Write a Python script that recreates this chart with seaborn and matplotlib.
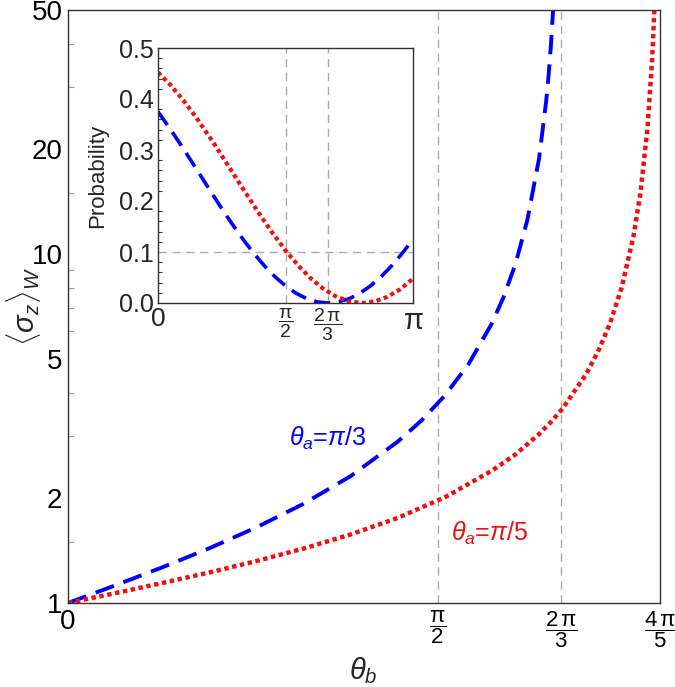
import numpy as np
import pandas as pd
import matplotlib
matplotlib.use("Agg")
import matplotlib.pyplot as plt
import seaborn as sns
from matplotlib.ticker import FixedLocator, NullFormatter, MultipleLocator

# Curva principal: valor débil <sigma_z>_W frente a theta_b
theta_azul = [0.0, 0.2, 0.4, 0.6, 0.8, 1.0, 1.2, 1.4, 1.5, 1.6, 1.7, 1.8, 1.85,
              1.9, 1.95, 2.0, 2.03, 2.04, 2.05, 2.06]
sigma_azul = [1.0, 1.123, 1.265, 1.435, 1.647, 1.924, 2.31, 2.90, 3.33, 3.93, 4.83,
              6.33, 7.55, 9.38, 12.5, 18.8, 27.4, 32.3, 39.5, 50.8]

theta_rojo = [0.0, 0.2, 0.4, 0.6, 0.8, 1.0, 1.2, 1.4, 1.6, 1.8, 1.9, 2.0, 2.05,
              2.1, 2.2, 2.25, 2.3, 2.35, 2.4, 2.43, 2.46, 2.48, 2.49]
sigma_rojo = [1.0, 1.067, 1.141, 1.223, 1.319, 1.432, 1.572, 1.753, 2.009, 2.395,
              2.666, 3.049, 3.30, 3.609, 4.53, 5.25, 6.30, 8.00, 11.18, 14.9,
              22.9, 36.2, 51.5]

# Recuadro: probabilidad frente a theta_b
theta_p_azul = [0.0, 0.131, 0.262, 0.393, 0.524, 0.654, 0.785, 0.916, 1.047, 1.178,
                1.309, 1.440, 1.571, 1.702, 1.833, 1.963, 2.094, 2.225, 2.356,
                2.487, 2.618, 2.749, 2.880, 3.011, 3.142]
prob_azul = [0.375, 0.3457, 0.3147, 0.2826, 0.25, 0.2174, 0.1853, 0.1543, 0.125,
             0.0978, 0.0732, 0.0517, 0.0335, 0.0190, 0.0085, 0.0021, 0.0, 0.0021,
             0.0085, 0.0190, 0.0335, 0.0517, 0.0732, 0.0978, 0.125]

theta_p_rojo = [0.0, 0.157, 0.314, 0.471, 0.628, 0.785, 0.942, 1.100, 1.257, 1.414,
                1.571, 1.728, 1.885, 2.042, 2.199, 2.356, 2.513, 2.670, 2.827,
                2.985, 3.142]
prob_rojo = [0.4523, 0.4268, 0.3969, 0.3635, 0.3273, 0.2891, 0.25, 0.2109, 0.1727,
             0.1365, 0.1031, 0.0732, 0.0477, 0.0272, 0.0122, 0.0031, 0.0, 0.0031,
             0.0122, 0.0272, 0.0477]

ticks_main_x = [0, np.pi / 2, 2 * np.pi / 3, 4 * np.pi / 5]
labels_main_x = ["0", r"$\dfrac{\mathrm{\pi}}{2}$", r"$\dfrac{2\,\mathrm{\pi}}{3}$",
                 r"$\dfrac{4\,\mathrm{\pi}}{5}$"]
ticks_main_y = [1, 2, 5, 10, 20, 50]
minor_main_y = [1.5, 3, 4, 6, 7, 8, 9, 15, 30, 40]
ticks_ins_x = [0, np.pi / 2, 2 * np.pi / 3, np.pi]
labels_ins_x = ["0", r"$\dfrac{\mathrm{\pi}}{2}$", r"$\dfrac{2\,\mathrm{\pi}}{3}$",
                r"$\mathrm{\pi}$"]

sns.set_style("white")
plt.rcParams["font.family"] = ["Liberation Sans", "DejaVu Sans"]
plt.rcParams["mathtext.fontset"] = "custom"
plt.rcParams["mathtext.rm"] = "Liberation Sans"
plt.rcParams["mathtext.it"] = "Liberation Sans:italic"
plt.rcParams["mathtext.bf"] = "Liberation Sans:bold"

AZUL = "#0000ff"
ROJO = "#ee1111"
GRIS = "#aaaaaa"
MARCO = "#333333"

fig = plt.figure(figsize=(6.75, 6.87), dpi=100)
ax = fig.add_axes([68 / 675, 84 / 687, 592 / 675, 593 / 687])

df_azul = pd.DataFrame({"theta": theta_azul, "sigma": sigma_azul})
df_rojo = pd.DataFrame({"theta": theta_rojo, "sigma": sigma_rojo})
sns.lineplot(data=df_azul, x="theta", y="sigma", ax=ax, color=AZUL, lw=2.8,
             linestyle=(0, (5, 2.6)))
sns.lineplot(data=df_rojo, x="theta", y="sigma", ax=ax, color=ROJO, lw=3.2,
             linestyle=(0, (1, 0.8)))

ax.set_yscale("log")
ax.set_xlim(0, 4 * np.pi / 5)
ax.set_ylim(1, 50)
for xv in [np.pi / 2, 2 * np.pi / 3]:
    ax.axvline(xv, color=GRIS, lw=1, linestyle=(0, (6, 4)), zorder=0)

ax.xaxis.set_major_locator(FixedLocator(ticks_main_x))
ax.set_xticklabels(labels_main_x)
ax.yaxis.set_major_locator(FixedLocator(ticks_main_y))
ax.yaxis.set_minor_locator(FixedLocator(minor_main_y))
ax.yaxis.set_minor_formatter(NullFormatter())
ax.set_yticklabels([str(v) for v in ticks_main_y])
ax.xaxis.set_minor_locator(FixedLocator([]))
ax.tick_params(axis="both", which="major", direction="in", length=6, width=1,
               color=MARCO, labelsize=20, labelcolor="black", pad=4)
ax.tick_params(axis="y", which="minor", direction="in", length=4, width=0.8,
               color="#999999", left=True)
ax.tick_params(axis="x", labelsize=16, pad=4)
ax.xaxis.get_ticklabels()[0].set_fontsize(20)
for s in ax.spines.values():
    s.set_color(MARCO)
    s.set_linewidth(1)

ax.set_xlabel("")
ax.set_ylabel("")
fig.text(363 / 675, 1 - 671 / 687, r"$\theta_b$", fontsize=21, ha="center", va="center")
fig.text(24 / 675, 1 - 306 / 687, r"$\langle\sigma_z\rangle_W$", fontsize=21,
         ha="center", va="center", rotation=90)

ax.text(1.10, 2.97, r"$\theta_a$=$\pi$/3", color=AZUL, fontsize=18,
        ha="center", va="center")
ax.text(1.79, 1.587, r"$\theta_a$=$\pi$/5", color=ROJO, fontsize=18,
        ha="center", va="center")

# Recuadro
ins = fig.add_axes([158 / 675, (687 - 303) / 687, 255 / 675, 255 / 687])
df_p_azul = pd.DataFrame({"theta": theta_p_azul, "p": prob_azul})
df_p_rojo = pd.DataFrame({"theta": theta_p_rojo, "p": prob_rojo})
sns.lineplot(data=df_p_azul, x="theta", y="p", ax=ins, color=AZUL, lw=2.6,
             linestyle=(0, (4.5, 2.4)))
sns.lineplot(data=df_p_rojo, x="theta", y="p", ax=ins, color=ROJO, lw=3.0,
             linestyle=(0, (1, 0.8)))
ins.set_xlim(0, np.pi)
ins.set_ylim(0, 0.5)
for xv in [np.pi / 2, 2 * np.pi / 3]:
    ins.axvline(xv, color=GRIS, lw=1, linestyle=(0, (6, 4)), zorder=0)
ins.axhline(0.1, color=GRIS, lw=1, linestyle=(0, (6, 4)), zorder=0)
ins.xaxis.set_major_locator(FixedLocator(ticks_ins_x))
ins.set_xticklabels(labels_ins_x)
ins.yaxis.set_major_locator(MultipleLocator(0.1))
ins.yaxis.set_minor_locator(MultipleLocator(0.02))
ins.yaxis.set_major_formatter(plt.FuncFormatter(lambda v, p: f"{v:.1f}"))
ins.tick_params(axis="both", which="major", direction="in", length=5, width=1,
                color=MARCO, labelsize=18, pad=3)
ins.tick_params(axis="y", which="minor", direction="in", length=3, width=0.8,
                color=MARCO, left=True)
ins.tick_params(axis="x", labelsize=14)
ins.xaxis.get_ticklabels()[0].set_fontsize(19)
ins.xaxis.get_ticklabels()[3].set_fontsize(21)
for s in ins.spines.values():
    s.set_color(MARCO)
    s.set_linewidth(1)
ins.set_xlabel("")
ins.set_ylabel("Probability", fontsize=16, labelpad=8)

fig.savefig("out.png", dpi=100, facecolor="white")
